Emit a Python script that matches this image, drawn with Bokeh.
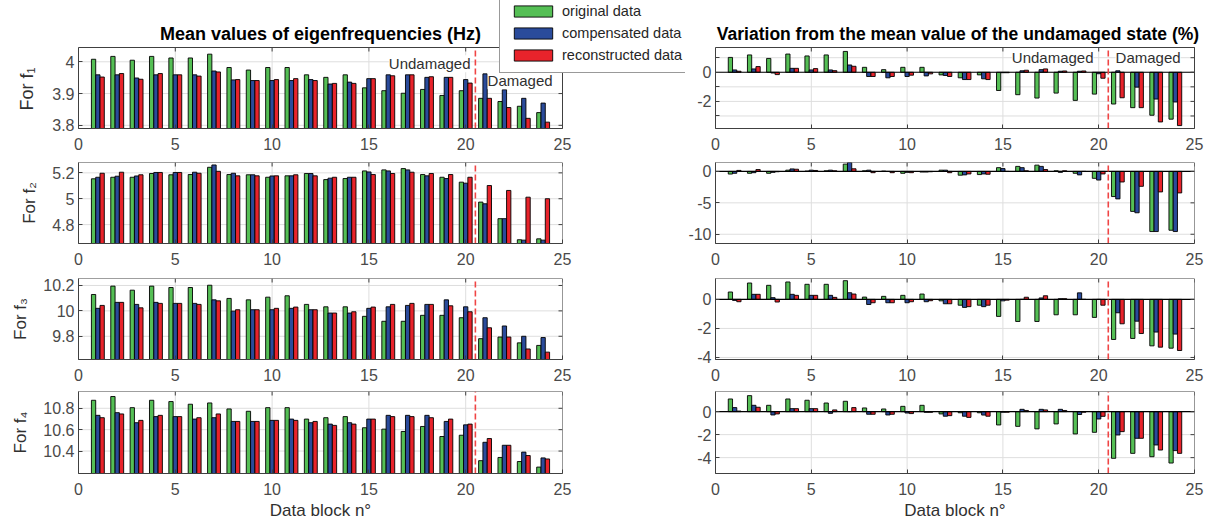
from bokeh.plotting import figure
from bokeh.models import (ColumnDataSource, Range1d, FixedTicker, PrintfTickFormatter,
                          Label, Legend, LegendItem, BoxAnnotation, Title)
from bokeh.layouts import column, row
from bokeh.transform import dodge
from bokeh.embed import file_html
from bokeh.resources import INLINE

# ---------------------------------------------------------------- data
blocks = list(range(1, 25))
series_names = ["original data", "compensated data", "reconstructed data"]

# mean eigenfrequencies per data block (Hz)
f1_original = [4.008, 4.017, 4.005, 4.017, 4.012, 4.012, 4.024, 3.982, 3.974, 3.982, 3.982, 3.959,
               3.951, 3.959, 3.918, 3.909, 3.901, 3.913, 3.894, 3.909, 3.885, 3.875, 3.860, 3.840]
f1_compensated = [3.959, 3.959, 3.949, 3.959, 3.959, 3.959, 3.971, 3.943, 3.941, 3.941, 3.941, 3.944,
                  3.930, 3.936, 3.947, 3.959, 3.959, 3.951, 3.951, 3.944, 3.962, 3.912, 3.885, 3.870]
f1_reconstructed = [3.952, 3.963, 3.945, 3.963, 3.959, 3.955, 3.968, 3.944, 3.941, 3.944, 3.947, 3.941,
                    3.932, 3.932, 3.947, 3.956, 3.959, 3.953, 3.951, 3.933, 3.885, 3.856, 3.822, 3.810]

f2_original = [5.154, 5.166, 5.166, 5.195, 5.185, 5.187, 5.243, 5.187, 5.185, 5.166, 5.177, 5.195,
               5.148, 5.156, 5.215, 5.223, 5.233, 5.187, 5.166, 5.128, 4.974, 4.846, 4.683, 4.690]
f2_compensated = [5.166, 5.174, 5.176, 5.203, 5.203, 5.205, 5.261, 5.197, 5.185, 5.176, 5.177, 5.195,
                  5.159, 5.166, 5.207, 5.215, 5.223, 5.177, 5.156, 5.120, 4.961, 4.846, 4.680, 4.680]
f2_reconstructed = [5.197, 5.205, 5.185, 5.203, 5.203, 5.197, 5.212, 5.177, 5.177, 5.177, 5.185, 5.177,
                    5.166, 5.166, 5.187, 5.195, 5.205, 5.195, 5.187, 5.166, 5.102, 5.064, 5.012, 5.000]

f3_original = [10.129, 10.195, 10.163, 10.195, 10.184, 10.184, 10.202, 10.098, 10.087, 10.108, 10.119, 10.051,
               10.032, 10.032, 9.957, 9.918, 9.918, 9.965, 9.965, 9.946, 9.781, 9.794, 9.748, 9.728]
f3_compensated = [10.020, 10.067, 10.051, 10.067, 10.059, 10.059, 10.087, 9.998, 10.009, 10.009, 10.020, 10.009,
                  9.983, 9.983, 10.020, 10.032, 10.043, 10.051, 10.087, 10.032, 9.946, 9.881, 9.800, 9.790]
f3_reconstructed = [10.043, 10.067, 10.024, 10.059, 10.059, 10.051, 10.079, 10.009, 10.009, 10.020, 10.030, 10.009,
                    9.983, 9.993, 10.030, 10.051, 10.059, 10.051, 10.040, 9.993, 9.867, 9.794, 9.700, 9.675]

f4_original = [10.875, 10.910, 10.806, 10.875, 10.863, 10.838, 10.850, 10.794, 10.772, 10.806, 10.806, 10.699,
               10.712, 10.722, 10.618, 10.605, 10.583, 10.630, 10.536, 10.548, 10.310, 10.340, 10.302, 10.250]
f4_compensated = [10.734, 10.759, 10.665, 10.722, 10.722, 10.699, 10.712, 10.677, 10.677, 10.687, 10.699, 10.665,
                  10.652, 10.665, 10.699, 10.734, 10.734, 10.734, 10.677, 10.645, 10.482, 10.454, 10.390, 10.336]
f4_reconstructed = [10.712, 10.747, 10.687, 10.734, 10.722, 10.712, 10.747, 10.677, 10.677, 10.687, 10.687, 10.677,
                    10.640, 10.652, 10.699, 10.722, 10.722, 10.712, 10.699, 10.652, 10.517, 10.454, 10.358, 10.326]

# variation from the mean value of the undamaged state (%)
v1_original = [1.02, 1.19, 0.95, 1.25, 1.12, 1.19, 1.43, 0.34, 0.18, 0.34, 0.34, -0.18,
               -0.38, -0.18, -1.25, -1.54, -1.77, -1.43, -1.93, -1.50, -2.18, -2.43, -2.95, -3.22]
v1_compensated = [0.16, 0.23, -0.05, 0.27, 0.16, 0.16, 0.50, -0.29, -0.38, -0.29, -0.25, -0.22,
                  -0.50, -0.45, -0.03, 0.10, 0.18, 0.07, 0.07, -0.10, 0.10, -1.02, -1.84, -2.04]
v1_reconstructed = [0.07, 0.39, -0.16, 0.27, 0.25, 0.11, 0.41, -0.29, -0.29, -0.20, -0.11, -0.29,
                    -0.50, -0.50, -0.03, 0.14, 0.23, 0.09, 0.09, -0.41, -1.75, -2.43, -3.41, -3.66]

v2_original = [-0.42, -0.30, -0.30, 0.20, 0.05, 0.10, 1.16, 0.10, 0.05, -0.30, -0.10, 0.20,
               -0.60, -0.50, 0.60, 0.80, 1.00, 0.10, -0.30, -1.10, -4.00, -6.36, -9.57, -9.36]
v2_compensated = [-0.30, -0.20, -0.15, 0.40, 0.20, 0.20, 1.53, 0.20, 0.00, -0.15, -0.10, 0.20,
                  -0.55, -0.40, 0.45, 0.60, 0.80, -0.15, -0.55, -1.37, -4.37, -6.58, -9.57, -9.57]
v2_reconstructed = [0.16, 0.30, -0.05, 0.35, 0.15, 0.10, 0.42, -0.20, -0.20, -0.20, -0.05, -0.20,
                    -0.40, -0.45, 0.00, 0.10, 0.30, 0.10, 0.00, -0.40, -1.68, -2.37, -3.26, -3.42]

v3_original = [0.51, 1.13, 0.97, 1.20, 1.04, 1.04, 1.29, 0.16, 0.21, 0.28, 0.37, -0.10,
               -0.40, -0.40, -1.17, -1.52, -1.52, -1.06, -1.06, -1.24, -2.76, -2.69, -3.20, -3.36]
v3_compensated = [-0.07, 0.35, 0.12, 0.35, 0.28, 0.28, 0.46, -0.35, -0.23, -0.23, -0.16, -0.30,
                  -0.55, -0.50, -0.10, 0.00, 0.10, 0.05, 0.45, 0.00, -0.92, -1.50, -2.25, -2.39]
v3_reconstructed = [-0.16, 0.35, -0.18, 0.28, 0.28, 0.14, 0.37, -0.23, -0.23, -0.16, -0.09, -0.30,
                    -0.50, -0.40, -0.05, 0.15, 0.25, 0.05, 0.00, -0.40, -1.68, -2.35, -3.29, -3.52]

v4_original = [1.10, 1.39, 0.55, 1.10, 0.99, 0.75, 0.90, 0.32, 0.23, 0.46, 0.55, -0.20,
               -0.10, -0.10, -1.16, -1.28, -1.50, -1.07, -1.94, -1.80, -4.06, -3.63, -3.92, -4.47]
v4_compensated = [0.35, 0.55, -0.29, 0.26, 0.26, -0.15, 0.00, -0.23, -0.29, -0.12, -0.06, -0.40,
                  -0.40, -0.30, -0.05, 0.20, 0.20, 0.20, -0.25, -0.64, -2.03, -2.32, -2.90, -3.39]
v4_reconstructed = [0.05, 0.38, -0.20, 0.26, 0.26, 0.15, 0.35, -0.23, -0.23, -0.17, -0.06, -0.35,
                    -0.50, -0.40, -0.05, 0.10, 0.15, 0.10, -0.05, -0.41, -1.74, -2.32, -3.34, -3.63]

x_ticks = [0, 5, 10, 15, 20, 25]
x_limits = (0, 25)
damage_onset = 20.5

# ---------------------------------------------------------------- styling
FONT = "Liberation Sans"
COLORS = ["#55bf55", "#2a4b9b", "#e8232b"]
OFFSETS = [-0.222, 0.0, 0.222]
BAR_W = 0.222
TICK_COLOR = "#4a4a4a"
LABEL_COLOR = "#303030"
FRAME_COLOR = "#404040"
GRID_COLOR = "#dedede"
DASH_COLOR = "#f04545"
TICK_LEN = 4  # px, ticks point into the box on all four sides

LEFT_W, RIGHT_W = 685, 533
ROW_H = [158, 115, 114, 138]
BORDER_TOP = [47, 4, 5, 4]
BORDER_BOTTOM = [30, 30, 28, 52]
LEFT_BORDERS = (78, 123)
RIGHT_BORDERS = (30, 24)

LEFT_TITLE = "Mean values of eigenfrequencies (Hz)"
RIGHT_TITLE = "Variation from the mean value of the undamaged state (%)"


def make_panel(side, r, values, y_range, y_ticks, ylabel=None, label_overrides=None,
               baseline=False, title=None, title_size="18px", title_shift=0):
    """One bar panel. In the first row the plotting area is stretched up to the top of
    the canvas and to its right edge so that the title and the legend can be drawn
    there; the data box keeps the pixel size of the panels below."""
    left = side == "left"
    bl, br = LEFT_BORDERS if left else RIGHT_BORDERS
    width = LEFT_W if left else RIGHT_W
    height = ROW_H[r]
    data_w = width - bl - br
    data_h = height - BORDER_TOP[r] - BORDER_BOTTOM[r]
    stretched = r == 0
    top_border = 0 if stretched else BORDER_TOP[r]
    right_border = 0 if stretched else br
    area_w = width - bl - right_border
    area_h = height - top_border - BORDER_BOTTOM[r]

    x0, x1 = x_limits
    y0, y1 = y_range
    p = figure(width=width, height=height,
               x_range=Range1d(x0, x0 + (x1 - x0) * area_w / data_w),
               y_range=Range1d(y0, y0 + (y1 - y0) * area_h / data_h),
               output_backend="svg", toolbar_location=None,
               min_border_left=bl, min_border_right=right_border,
               min_border_top=top_border, min_border_bottom=BORDER_BOTTOM[r])
    p.background_fill_color = "white"
    p.border_fill_color = "white"
    p.outline_line_color = None
    p.xgrid.visible = False
    p.ygrid.visible = False

    # grid lines restricted to the data box
    p.segment(x0=x_ticks, x1=x_ticks, y0=[y0] * len(x_ticks), y1=[y1] * len(x_ticks),
              line_color=GRID_COLOR, line_width=1, level="underlay")
    p.segment(x0=[x0] * len(y_ticks), x1=[x1] * len(y_ticks), y0=y_ticks, y1=y_ticks,
              line_color=GRID_COLOR, line_width=1, level="underlay")

    src = ColumnDataSource(dict(block=blocks, s0=values[0], s1=values[1], s2=values[2]))
    bottom = 0 if baseline else y0 - 1
    bars = []
    for k in range(3):
        bars.append(p.vbar(x=dodge("block", OFFSETS[k], range=p.x_range), top=f"s{k}",
                           bottom=bottom, width=BAR_W, source=src,
                           fill_color=COLORS[k], line_color="black", line_width=0.9))
    if baseline:
        p.segment(x0=[x0], x1=[x1], y0=[0], y1=[0], line_color="black", line_width=1.2)
    p.segment(x0=[damage_onset], x1=[damage_onset], y0=[y0], y1=[y1],
              line_color=DASH_COLOR, line_width=1.6, line_dash="6 3")

    # tick marks on the top and right edges of the box
    dy = TICK_LEN * (y1 - y0) / data_h
    dx = TICK_LEN * (x1 - x0) / data_w
    p.segment(x0=x_ticks, x1=x_ticks, y0=[y1] * len(x_ticks), y1=[y1 - dy] * len(x_ticks),
              line_color=FRAME_COLOR, line_width=1)
    p.segment(x0=[x1] * len(y_ticks), x1=[x1 - dx] * len(y_ticks), y0=y_ticks, y1=y_ticks,
              line_color=FRAME_COLOR, line_width=1)

    # axes
    xa, ya = p.xaxis[0], p.yaxis[0]
    xa.ticker = FixedTicker(ticks=x_ticks)
    ya.ticker = FixedTicker(ticks=y_ticks)
    ya.formatter = PrintfTickFormatter(format="%g")
    if label_overrides:
        ya.major_label_overrides = label_overrides
    xa.bounds = (x0, x1)
    ya.bounds = (y0, y1)
    for ax in (xa, ya):
        ax.major_tick_in = TICK_LEN
        ax.major_tick_out = 0
        ax.minor_tick_line_color = None
        ax.major_tick_line_color = FRAME_COLOR
        ax.axis_line_color = FRAME_COLOR
        ax.major_label_text_font = FONT
        ax.major_label_text_font_size = "16px"
        ax.major_label_text_color = TICK_COLOR
        ax.axis_label_text_font = FONT
        ax.axis_label_text_font_size = "17px"
        ax.axis_label_text_font_style = "normal"
        ax.axis_label_text_color = LABEL_COLOR
    xa.major_label_standoff = 9
    ya.major_label_standoff = 4
    if r == 3:
        xa.axis_label = "Data block n°"
        xa.axis_label_standoff = 3

    p.add_layout(BoxAnnotation(left=x0, right=x1, bottom=y0, top=y1, fill_alpha=0,
                               line_color=FRAME_COLOR, line_width=1, line_alpha=1))

    if ylabel:
        if area_h == data_h:
            ya.axis_label = ylabel
            ya.axis_label_standoff = 10
        else:
            # vertical label centred on the data box rather than on the stretched area
            p.add_layout(Title(text=ylabel, align="left", offset=18, standoff=26,
                               text_font=FONT, text_font_size="18px", text_font_style="normal",
                               text_color=LABEL_COLOR), "left")

    if title:
        p.add_layout(Label(x=data_w / 2 + title_shift, y=area_h - 33, x_units="screen", y_units="screen",
                           text=title, text_align="center", text_baseline="middle",
                           text_font=FONT, text_font_size=title_size, text_font_style="bold",
                           text_color="black"))
    return p, bars, area_h


left_sets = [
    ([f1_original, f1_compensated, f1_reconstructed], (3.79, 4.045), [3.8, 3.9, 4.0], "For f\u2081"),
    ([f2_original, f2_compensated, f2_reconstructed], (4.654, 5.28), [4.8, 5.0, 5.2], "For f\u2082"),
    ([f3_original, f3_compensated, f3_reconstructed], (9.617, 10.255), [9.8, 10.0, 10.2], "For f\u2083"),
    ([f4_original, f4_compensated, f4_reconstructed], (10.19, 10.957), [10.4, 10.6, 10.8], "For f\u2084"),
]
right_sets = [
    ([v1_original, v1_compensated, v1_reconstructed], (-3.86, 1.7), [-3, -2, -1, 0, 1], {1: "", -1: "", -3: ""}),
    ([v2_original, v2_compensated, v2_reconstructed], (-11.47, 1.42), [-10, -5, 0], None),
    ([v3_original, v3_compensated, v3_reconstructed], (-4.14, 1.44), [-4, -2, 0], None),
    ([v4_original, v4_compensated, v4_reconstructed], (-5.38, 1.75), [-4, -2, 0], None),
]

label_kw = dict(text_font=FONT, text_font_size="15px", text_color=LABEL_COLOR,
                text_baseline="middle", background_fill_color="white")

rows = []
for r in range(4):
    vals, yr, yt, yl = left_sets[r]
    lp, lbars, l_area_h = make_panel("left", r, vals, yr, yt, ylabel=yl,
                                     title=LEFT_TITLE if r == 0 else None)
    vals, yr, yt, ov = right_sets[r]
    rp, _, _ = make_panel("right", r, vals, yr, yt, label_overrides=ov, baseline=True,
                          title=RIGHT_TITLE if r == 0 else None, title_size="17.5px", title_shift=3)
    if r == 0:
        lp.add_layout(Label(x=20.25, y=3.994, text="Undamaged", text_align="right", **label_kw))
        lp.add_layout(Label(x=21.13, y=3.94, text="Damaged", text_align="left", **label_kw))
        rp.add_layout(Label(x=19.73, y=1.0, text="Undamaged", text_align="right", **label_kw))
        rp.add_layout(Label(x=20.88, y=1.0, text="Damaged", text_align="left", **label_kw))

        legend = Legend(items=[LegendItem(label=series_names[k], renderers=[lbars[k]]) for k in range(3)],
                        location=(421, l_area_h - 73), orientation="vertical",
                        glyph_width=48, glyph_height=14, label_height=14,
                        label_text_font=FONT, label_text_font_size="14.5px",
                        label_text_color="#262626", label_standoff=5,
                        spacing=6, padding=9, margin=0,
                        border_line_color="#333333", border_line_width=1,
                        background_fill_color="white", background_fill_alpha=1)
        lp.add_layout(legend, "center")

    rows.append(row(lp, rp))

layout = column(*rows)

with open("out.html", "w") as fh:
    fh.write(file_html(layout, INLINE))
